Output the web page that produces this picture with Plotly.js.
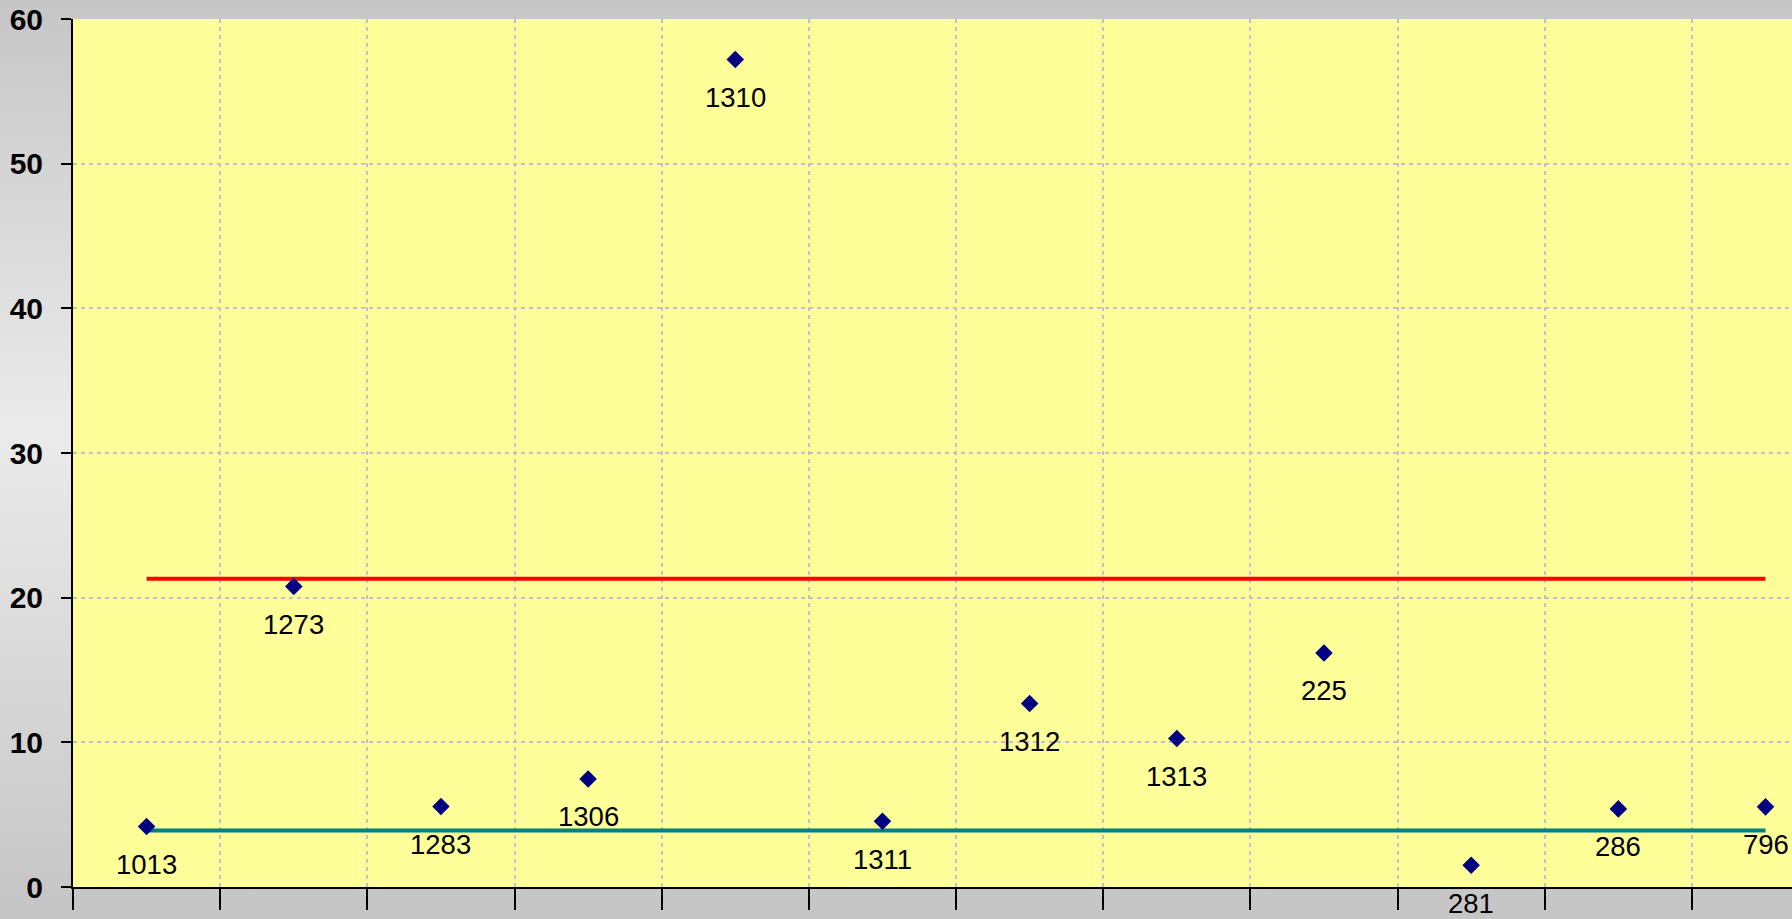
<!DOCTYPE html>
<html>
<head>
<meta charset="utf-8">
<script src="https://cdn.plot.ly/plotly-3.0.1.min.js"></script>
<style>
  html, body { margin: 0; padding: 0; width: 1792px; height: 919px; overflow: hidden;
    background: linear-gradient(to bottom, #c6c6c6 0%, #ebebeb 47%, #c5c5c5 100%); }
  #chart { width: 1792px; height: 919px; }
</style>
</head>
<body>
<div id="chart"></div>
<script>
// Sample identifiers (data labels) and measured values
const sampleIds = ['1013', '1273', '1283', '1306', '1310', '1311', '1312', '1313', '225', '281', '286', '796'];
const values    = [4.18, 20.78, 5.57, 7.47, 57.2, 4.55, 12.68, 10.26, 16.18, 1.51, 5.40, 5.54];
const upperLimit = 21.31;
const lowerLimit = 3.90;
const yTicks = [0, 10, 20, 30, 40, 50, 60];

const xIdx = sampleIds.map((_, i) => i);
const xEnds = [0, sampleIds.length - 1];

const traces = [
  { x: xEnds, y: [upperLimit, upperLimit], mode: 'lines', line: { color: '#FF0000', width: 4 }, hoverinfo: 'skip' },
  { x: xEnds, y: [lowerLimit, lowerLimit], mode: 'lines', line: { color: '#008080', width: 4 }, hoverinfo: 'skip' },
  { x: xIdx, y: values, mode: 'markers', marker: { symbol: 'diamond', size: 13.5, color: '#000080' }, text: sampleIds, hoverinfo: 'text+y' }
];

const annotations = sampleIds.map((id, i) => ({
  x: i, y: values[i], xref: 'x', yref: 'y', text: id, showarrow: false,
  yanchor: 'middle', xanchor: 'center', yshift: -38,
  font: { family: 'Liberation Sans, Arial, sans-serif', size: 27.5, color: '#000000' }
}));

const layout = {
  width: 1792, height: 919,
  margin: { l: 73, r: 0, t: 19, b: 32 },
  paper_bgcolor: 'rgba(0,0,0,0)',
  plot_bgcolor: '#FFFF99',
  showlegend: false,
  xaxis: {
    range: [-0.5, 11.18], tick0: -0.5, dtick: 1, tickmode: 'linear',
    showticklabels: false, ticks: 'outside', ticklen: 21, tickwidth: 2, tickcolor: '#000000',
    showline: true, linecolor: '#000000', linewidth: 2,
    showgrid: true, gridcolor: '#C0C0CC', gridwidth: 2, griddash: '4px,4px',
    zeroline: false, fixedrange: true
  },
  yaxis: {
    range: [0, 60], tickvals: yTicks, ticktext: yTicks.map(String),
    ticks: 'outside', ticklen: 10, tickwidth: 2, tickcolor: '#000000',
    tickfont: { family: 'Liberation Sans, Arial, sans-serif', size: 30, color: '#000000', weight: 'bold' },
    ticklabelstandoff: 12,
    showline: true, linecolor: '#000000', linewidth: 2,
    showgrid: true, gridcolor: '#C0C0CC', gridwidth: 2, griddash: '4px,4px',
    zeroline: false, fixedrange: true
  },
  annotations: annotations
};

Plotly.newPlot('chart', traces, layout, { displayModeBar: false, staticPlot: true });
</script>
</body>
</html>
